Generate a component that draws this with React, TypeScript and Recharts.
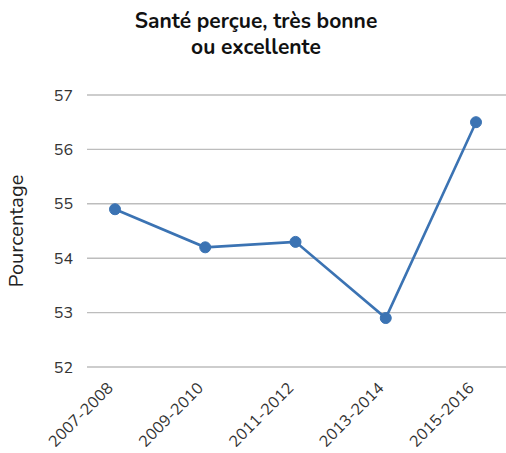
import { CartesianGrid, Line, LineChart, XAxis, YAxis } from "recharts"

const periods = ["2007-2008", "2009-2010", "2011-2012", "2013-2014", "2015-2016"]
const values = [54.9, 54.2, 54.3, 52.9, 56.5]
const yTicks = [52, 53, 54, 55, 56, 57]

const data = periods.map((period, i) => ({ period, value: values[i] }))

const FONT = "'Nunito', 'Lato', 'Open Sans', sans-serif"
const BLUE = "#3b73b3"

export default function App() {
  return (
    <div style={{ position: "absolute", left: 0, top: 0, width: 506, height: 453, background: "#fff", fontFamily: FONT }}>
      <div
        style={{
          position: "absolute",
          top: 8,
          left: 0,
          width: 506,
          textAlign: "center",
          fontWeight: 700,
          fontSize: 21,
          lineHeight: "26px",
          color: "#111",
          paddingLeft: 6,
          boxSizing: "border-box",
        }}
      >
        Santé perçue, très bonne
        <br />
        ou excellente
      </div>
      <LineChart width={506} height={453} data={data} margin={{ top: 95, right: 0, bottom: 0, left: 0 }}>
        <CartesianGrid vertical={false} stroke="#bdbdbd" strokeWidth={1.4} />
        <XAxis
          dataKey="period"
          axisLine={false}
          tickLine={false}
          padding={{ left: 28, right: 30 }}
          interval={0}
          height={86}
          tick={{ fontSize: 16, fill: "#333", fontFamily: FONT, angle: -45, textAnchor: "end", dx: -9, dy: 6 }}
        />
        <YAxis
          domain={[52, 57]}
          ticks={yTicks}
          axisLine={false}
          tickLine={false}
          tickSize={0}
          tickMargin={14}
          width={87}
          tick={{ fontSize: 16, fill: "#333", fontFamily: FONT }}
          label={{
            value: "Pourcentage",
            angle: -90,
            position: "insideLeft",
            offset: 16,
            style: { fontSize: 20, fill: "#222", fontFamily: FONT, textAnchor: "middle" },
          }}
        />
        <Line
          type="linear"
          dataKey="value"
          stroke={BLUE}
          strokeWidth={2.6}
          dot={{ r: 5.5, fill: BLUE, stroke: BLUE, strokeWidth: 1 }}
          isAnimationActive={false}
        />
      </LineChart>
    </div>
  )
}
